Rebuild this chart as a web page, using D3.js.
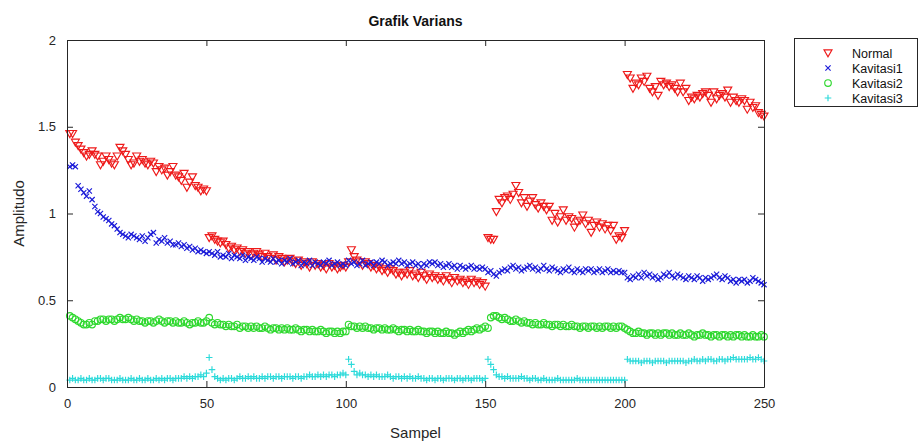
<!DOCTYPE html>
<html>
<head>
<meta charset="utf-8">
<script src="https://cdn.jsdelivr.net/npm/d3@7"></script>
<style>
  html, body { margin: 0; padding: 0; background: #fff; }
  svg { display: block; font-family: "Liberation Sans", Arial, Helvetica, sans-serif; }
</style>
</head>
<body>
<svg id="chart" width="923" height="444"></svg>
<script>
// Variance amplitude per sample for the four measured conditions
const seriesNames = ["Normal", "Kavitasi1", "Kavitasi2", "Kavitasi3"];

const normal = [
  1.46, 1.46, 1.41, 1.39, 1.37, 1.35, 1.33, 1.34, 1.36, 1.34,
  1.33, 1.28, 1.30, 1.33, 1.31, 1.29, 1.28, 1.33, 1.38, 1.36,
  1.34, 1.31, 1.28, 1.29, 1.33, 1.30, 1.31, 1.29, 1.28, 1.30,
  1.29, 1.24, 1.27, 1.25, 1.26, 1.22, 1.24, 1.27, 1.22, 1.21,
  1.19, 1.23, 1.15, 1.18, 1.21, 1.16, 1.15, 1.13, 1.14, 1.13,
  0.86, 0.87, 0.85, 0.84, 0.83, 0.84, 0.82, 0.80, 0.81, 0.79,
  0.80, 0.78, 0.79, 0.77, 0.78, 0.76, 0.77, 0.78, 0.76, 0.75,
  0.77, 0.75, 0.74, 0.76, 0.73, 0.75, 0.74, 0.72, 0.73, 0.74,
  0.72, 0.71, 0.73, 0.70, 0.72, 0.71, 0.69, 0.72, 0.70, 0.71,
  0.69, 0.70, 0.68, 0.71, 0.69, 0.70, 0.68, 0.69, 0.70, 0.69,
  0.72, 0.79, 0.75, 0.73, 0.72, 0.70, 0.72, 0.71, 0.69, 0.70,
  0.68, 0.69, 0.67, 0.68, 0.66, 0.68, 0.67, 0.65, 0.66, 0.64,
  0.66, 0.65, 0.67, 0.64, 0.65, 0.63, 0.66, 0.64, 0.62, 0.65,
  0.63, 0.64, 0.62, 0.63, 0.61, 0.64, 0.62, 0.60, 0.63, 0.61,
  0.62, 0.60, 0.61, 0.59, 0.62, 0.60, 0.61, 0.59, 0.60, 0.58,
  0.86, 0.85, 0.85, 1.01, 1.08, 1.06, 1.09, 1.10, 1.08, 1.11,
  1.16, 1.12, 1.06, 1.09, 1.04, 1.07, 1.09, 1.05, 1.03, 1.06,
  1.04, 1.02, 1.04, 0.96, 1.00, 0.95, 0.98, 1.02, 0.96, 0.98,
  0.97, 0.92, 0.95, 0.96, 0.99, 0.94, 0.96, 0.89, 0.93, 0.95,
  0.92, 0.94, 0.91, 0.93, 0.90, 0.93, 0.85, 0.87, 0.86, 0.90,
  1.80, 1.78, 1.72, 1.75, 1.74, 1.78, 1.76, 1.79, 1.72, 1.70,
  1.73, 1.68, 1.76, 1.74, 1.75, 1.73, 1.74, 1.72, 1.70, 1.75,
  1.70, 1.72, 1.65, 1.67, 1.66, 1.68, 1.67, 1.69, 1.70, 1.68,
  1.64, 1.70, 1.66, 1.68, 1.69, 1.67, 1.71, 1.64, 1.67, 1.65,
  1.64, 1.66, 1.65, 1.60, 1.64, 1.61, 1.62, 1.58, 1.57, 1.56
];

const kavitasi1 = [
  1.27, 1.28, 1.27, 1.16, 1.14, 1.12, 1.10, 1.13, 1.08, 1.04,
  1.01, 1.00, 0.98, 0.97, 0.96, 0.94, 0.93, 0.91, 0.89, 0.88,
  0.87, 0.86, 0.88, 0.87, 0.86, 0.85, 0.87, 0.84, 0.86, 0.88,
  0.89, 0.83, 0.85, 0.84, 0.86, 0.83, 0.84, 0.82, 0.82, 0.83,
  0.81, 0.82, 0.80, 0.81, 0.79, 0.80, 0.78, 0.79, 0.78, 0.77,
  0.78, 0.77, 0.76, 0.78, 0.75, 0.76, 0.75, 0.77, 0.74, 0.76,
  0.75, 0.74, 0.76, 0.73, 0.75, 0.74, 0.73, 0.75, 0.74, 0.72,
  0.74, 0.73, 0.72, 0.74, 0.72, 0.73, 0.71, 0.73, 0.72, 0.74,
  0.71, 0.72, 0.73, 0.70, 0.72, 0.71, 0.73, 0.70, 0.72, 0.71,
  0.70, 0.72, 0.71, 0.73, 0.70, 0.71, 0.72, 0.70, 0.71, 0.70,
  0.73, 0.71, 0.72, 0.70, 0.71, 0.73, 0.70, 0.71, 0.72, 0.70,
  0.72, 0.71, 0.73, 0.72, 0.70, 0.71, 0.72, 0.71, 0.73, 0.71,
  0.72, 0.70, 0.71, 0.72, 0.70, 0.71, 0.69, 0.71, 0.70, 0.72,
  0.71, 0.72, 0.70, 0.71, 0.69, 0.70, 0.71, 0.69, 0.70, 0.68,
  0.70, 0.69, 0.68, 0.69, 0.70, 0.68, 0.69, 0.68, 0.69, 0.68,
  0.66, 0.67, 0.65, 0.64, 0.66, 0.67, 0.68, 0.67, 0.69, 0.70,
  0.68, 0.69, 0.67, 0.68, 0.69, 0.70, 0.68, 0.69, 0.67, 0.68,
  0.70, 0.68, 0.67, 0.69, 0.68, 0.67, 0.66, 0.68, 0.67, 0.69,
  0.67, 0.66, 0.68, 0.67, 0.66, 0.68, 0.67, 0.68, 0.66, 0.67,
  0.68, 0.66, 0.67, 0.68, 0.66, 0.67, 0.66, 0.67, 0.66, 0.66,
  0.63, 0.62, 0.64, 0.63, 0.65, 0.63, 0.66, 0.64, 0.65, 0.63,
  0.64, 0.62, 0.63, 0.65, 0.64, 0.66, 0.64, 0.63, 0.65, 0.64,
  0.63, 0.62, 0.64, 0.63, 0.62, 0.64, 0.63, 0.61, 0.63, 0.62,
  0.63, 0.64, 0.65, 0.63, 0.62, 0.64, 0.63, 0.61, 0.62, 0.60,
  0.62, 0.61, 0.62, 0.60, 0.61, 0.63, 0.62, 0.61, 0.60, 0.59
];

const kavitasi2 = [
  0.41, 0.40, 0.39, 0.38, 0.37, 0.36, 0.36, 0.37, 0.36, 0.38,
  0.38, 0.39, 0.39, 0.38, 0.39, 0.39, 0.38, 0.39, 0.40, 0.39,
  0.39, 0.40, 0.39, 0.38, 0.39, 0.38, 0.38, 0.37, 0.38, 0.38,
  0.37, 0.38, 0.39, 0.38, 0.37, 0.38, 0.38, 0.37, 0.38, 0.37,
  0.37, 0.38, 0.37, 0.36, 0.37, 0.37, 0.38, 0.37, 0.37, 0.38,
  0.40, 0.37, 0.36, 0.37, 0.36, 0.36, 0.35, 0.36, 0.35, 0.35,
  0.36, 0.34, 0.35, 0.35, 0.34, 0.35, 0.34, 0.35, 0.34, 0.34,
  0.35, 0.34, 0.33, 0.34, 0.34, 0.33, 0.34, 0.33, 0.34, 0.33,
  0.33, 0.34, 0.33, 0.32, 0.33, 0.33, 0.32, 0.33, 0.32, 0.32,
  0.33, 0.32, 0.31, 0.32, 0.32, 0.31, 0.32, 0.31, 0.32, 0.32,
  0.36, 0.35, 0.35, 0.34, 0.35, 0.34, 0.35, 0.34, 0.34, 0.33,
  0.34, 0.34, 0.33, 0.34, 0.33, 0.33, 0.34, 0.33, 0.32, 0.33,
  0.33, 0.32, 0.33, 0.32, 0.32, 0.33, 0.32, 0.32, 0.31, 0.32,
  0.32, 0.31, 0.32, 0.31, 0.31, 0.32, 0.31, 0.31, 0.30, 0.31,
  0.32, 0.31, 0.32, 0.33, 0.32, 0.33, 0.34, 0.33, 0.34, 0.35,
  0.34, 0.40, 0.41, 0.41, 0.40, 0.39, 0.40, 0.39, 0.38, 0.38,
  0.39, 0.38, 0.37, 0.38, 0.37, 0.37, 0.36, 0.37, 0.36, 0.36,
  0.37, 0.36, 0.36, 0.35, 0.36, 0.36, 0.35, 0.36, 0.35, 0.35,
  0.36, 0.35, 0.35, 0.34, 0.35, 0.35, 0.34, 0.35, 0.35, 0.34,
  0.35, 0.34, 0.35, 0.35, 0.34, 0.35, 0.34, 0.35, 0.35, 0.34,
  0.33, 0.32, 0.31, 0.31, 0.32, 0.31, 0.31, 0.30, 0.31, 0.31,
  0.30, 0.31, 0.30, 0.31, 0.31, 0.30, 0.31, 0.30, 0.30, 0.31,
  0.30, 0.30, 0.31, 0.30, 0.29, 0.30, 0.30, 0.31, 0.30, 0.30,
  0.29, 0.30, 0.30, 0.29, 0.30, 0.30, 0.29, 0.30, 0.29, 0.30,
  0.30, 0.29, 0.30, 0.29, 0.29, 0.30, 0.29, 0.29, 0.30, 0.29
];

const kavitasi3 = [
  0.04, 0.05, 0.04, 0.04, 0.05, 0.04, 0.04, 0.05, 0.04, 0.04,
  0.05, 0.05, 0.04, 0.05, 0.05, 0.04, 0.04, 0.04, 0.05, 0.04,
  0.04, 0.04, 0.05, 0.04, 0.04, 0.05, 0.04, 0.04, 0.05, 0.04,
  0.04, 0.05, 0.04, 0.05, 0.04, 0.05, 0.05, 0.04, 0.05, 0.05,
  0.05, 0.06, 0.05, 0.06, 0.05, 0.06, 0.06, 0.07, 0.06, 0.08,
  0.17, 0.10, 0.06, 0.05, 0.04, 0.05, 0.04, 0.05, 0.05, 0.04,
  0.05, 0.06, 0.05, 0.05, 0.06, 0.05, 0.06, 0.05, 0.05, 0.06,
  0.05, 0.06, 0.06, 0.05, 0.06, 0.06, 0.05, 0.06, 0.06, 0.06,
  0.05, 0.06, 0.06, 0.05, 0.06, 0.06, 0.07, 0.06, 0.06, 0.07,
  0.06, 0.07, 0.06, 0.07, 0.07, 0.06, 0.07, 0.07, 0.08, 0.07,
  0.16, 0.13, 0.09, 0.07, 0.08, 0.07, 0.07, 0.06, 0.07, 0.06,
  0.07, 0.06, 0.06, 0.06, 0.07, 0.06, 0.05, 0.06, 0.06, 0.05,
  0.06, 0.05, 0.06, 0.05, 0.05, 0.06, 0.05, 0.05, 0.04, 0.05,
  0.05, 0.04, 0.05, 0.05, 0.04, 0.05, 0.05, 0.05, 0.04, 0.05,
  0.05, 0.04, 0.05, 0.05, 0.04, 0.05, 0.05, 0.05, 0.04, 0.05,
  0.16, 0.13, 0.10, 0.07, 0.06, 0.06, 0.05, 0.06, 0.05, 0.05,
  0.05, 0.05, 0.06, 0.05, 0.05, 0.04, 0.05, 0.05, 0.04, 0.04,
  0.05, 0.04, 0.04, 0.04, 0.04, 0.05, 0.04, 0.04, 0.04, 0.04,
  0.04, 0.04, 0.05, 0.04, 0.04, 0.04, 0.04, 0.04, 0.04, 0.04,
  0.04, 0.04, 0.04, 0.04, 0.04, 0.04, 0.04, 0.04, 0.04, 0.04,
  0.16, 0.15, 0.15, 0.15, 0.15, 0.14, 0.15, 0.15, 0.15, 0.14,
  0.15, 0.15, 0.15, 0.15, 0.14, 0.15, 0.15, 0.15, 0.15, 0.15,
  0.15, 0.14, 0.15, 0.15, 0.16, 0.15, 0.15, 0.16, 0.15, 0.16,
  0.16, 0.15, 0.15, 0.16, 0.16, 0.15, 0.16, 0.16, 0.17, 0.16,
  0.16, 0.16, 0.16, 0.16, 0.17, 0.16, 0.16, 0.17, 0.16, 0.15
];

const xTicks = [0, 50, 100, 150, 200, 250];
const yTicks = [0, 0.5, 1, 1.5, 2];

// ---- layout ----
const svg = d3.select("#chart");
const plot = { left: 67, right: 764, top: 40, bottom: 387 };

const x = d3.scaleLinear().domain([0, 250]).range([plot.left, plot.right]);
const y = d3.scaleLinear().domain([0, 2]).range([plot.bottom, plot.top]);

// marker shapes (MATLAB style: v, x, o, +)
const markerPath = {
  tri: s => `M${-s},${-s * 0.8}L${s},${-s * 0.8}L0,${s * 0.95}Z`,
  cross: s => `M${-s},${-s}L${s},${s}M${-s},${s}L${s},${-s}`,
  circle: s => `M${s},0A${s},${s} 0 1,1 ${-s},0A${s},${s} 0 1,1 ${s},0Z`,
  plus: s => `M${-s},0L${s},0M0,${-s}L0,${s}`
};

const series = [
  { name: seriesNames[0], values: normal,    color: "#ee1a1a", shape: "tri",    size: 4.0 },
  { name: seriesNames[1], values: kavitasi1, color: "#1a1ad8", shape: "cross",  size: 2.6 },
  { name: seriesNames[2], values: kavitasi2, color: "#2ed82e", shape: "circle", size: 3.3 },
  { name: seriesNames[3], values: kavitasi3, color: "#2cdada", shape: "plus",   size: 3.3 }
];

// ---- axes box ----
svg.append("rect")
  .attr("x", plot.left).attr("y", plot.top)
  .attr("width", plot.right - plot.left).attr("height", plot.bottom - plot.top)
  .attr("fill", "#fff");

// ---- data markers ----
series.forEach(s => {
  svg.append("g")
    .selectAll("path")
    .data(s.values)
    .join("path")
    .attr("transform", (v, i) => `translate(${x(i + 1)},${y(v)})`)
    .attr("d", markerPath[s.shape](s.size))
    .attr("fill", "none")
    .attr("stroke", s.color)
    .attr("stroke-width", 1.15);
});

// ---- axes (ticks pointing inward, MATLAB box style) ----
const tickLen = 6;
const axisColor = "#262626";

const gx = svg.append("g").attr("transform", `translate(0,${plot.bottom})`)
  .call(d3.axisBottom(x).tickValues(xTicks).tickSizeInner(-tickLen).tickSizeOuter(0).tickPadding(12));
const gxTop = svg.append("g").attr("transform", `translate(0,${plot.top})`)
  .call(d3.axisTop(x).tickValues(xTicks).tickSizeInner(-tickLen).tickSizeOuter(0).tickFormat(""));
const gy = svg.append("g").attr("transform", `translate(${plot.left},0)`)
  .call(d3.axisLeft(y).tickValues(yTicks).tickSizeInner(-tickLen).tickSizeOuter(0).tickPadding(11).tickFormat(d3.format("~g")));
const gyRight = svg.append("g").attr("transform", `translate(${plot.right},0)`)
  .call(d3.axisRight(y).tickValues(yTicks).tickSizeInner(-tickLen).tickSizeOuter(0).tickFormat(""));

[gx, gxTop, gy, gyRight].forEach(g => {
  g.select(".domain").attr("stroke", axisColor);
  g.selectAll(".tick line").attr("stroke", axisColor);
  g.selectAll(".tick text").attr("fill", "#262626").style("font-size", "13px")
    .style("font-family", "'Liberation Sans', Arial, sans-serif");
});

// ---- titles ----
svg.append("text")
  .attr("x", (plot.left + plot.right) / 2).attr("y", 26)
  .attr("text-anchor", "middle")
  .style("font-size", "14px").style("font-weight", "bold").attr("fill", "#111")
  .text("Grafik Varians");

svg.append("text")
  .attr("x", (plot.left + plot.right) / 2).attr("y", 438)
  .attr("text-anchor", "middle")
  .style("font-size", "15px").attr("fill", "#262626")
  .text("Sampel");

svg.append("text")
  .attr("transform", `translate(24,${(plot.top + plot.bottom) / 2}) rotate(-90)`)
  .attr("text-anchor", "middle")
  .style("font-size", "15px").attr("fill", "#262626")
  .text("Amplitudo");

// ---- legend ----
const legend = svg.append("g");
legend.append("rect")
  .attr("x", 794.5).attr("y", 38.5).attr("width", 123).attr("height", 68)
  .attr("fill", "#fff").attr("stroke", axisColor).attr("stroke-width", 1);

const legendY = d3.scalePoint().domain(seriesNames).range([53, 98]);
series.forEach(s => {
  legend.append("path")
    .attr("transform", `translate(828,${legendY(s.name)})`)
    .attr("d", markerPath[s.shape](s.size))
    .attr("fill", "none").attr("stroke", s.color).attr("stroke-width", 1.15);
  legend.append("text")
    .attr("x", 852).attr("y", legendY(s.name) + 4.5)
    .style("font-size", "12.5px").attr("fill", "#111")
    .text(s.name);
});
</script>
</body>
</html>
